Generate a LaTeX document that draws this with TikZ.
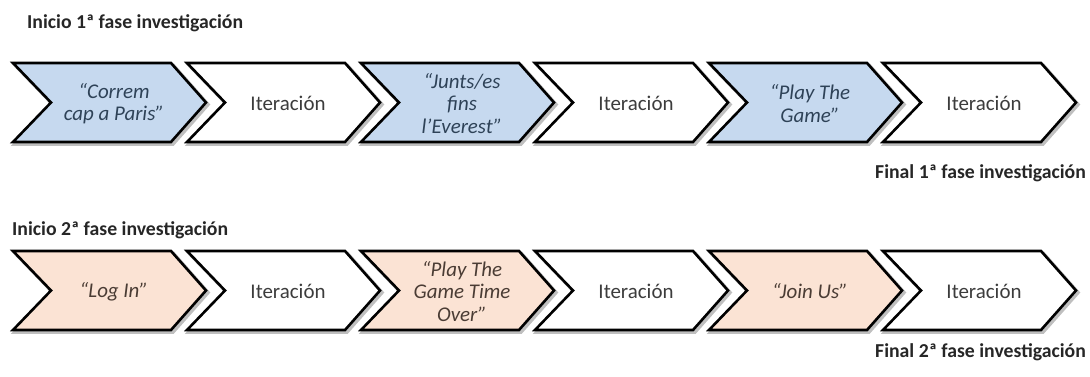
\documentclass[tikz,border=0pt]{standalone}
\usepackage{fontspec}
\setmainfont{Carlito}
\definecolor{bluefill}{HTML}{C6D9EF}
\definecolor{peachfill}{HTML}{FBE3D4}
\definecolor{bluetext}{HTML}{2E4257}
\definecolor{peachtext}{HTML}{4A3C34}
\definecolor{itertext}{HTML}{3C3C3C}
\tikzset{
  chevline/.style={draw=black, line width=2.6bp, line join=miter},
  chevshadow/.style={draw=black!25, line width=3.5bp, line join=miter},
  chevlabel/.style={font=\fontsize{21}{22.5}\selectfont, align=center, inner sep=0pt},
  bluelabel/.style={chevlabel, text=bluetext, font=\fontsize{21}{22.5}\selectfont\itshape},
  peachlabel/.style={chevlabel, text=peachtext, font=\fontsize{21}{22.5}\selectfont\itshape},
  iterlabel/.style={chevlabel, text=itertext},
  phase/.style={font=\fontsize{19.8}{21}\selectfont\bfseries, text=black!85, inner sep=0pt},
}
% #1 left x, #2 top y, #3 fill, #4 node name, #5 label style, #6 text
\newcommand\mychev[6]{%
  \path[chevshadow] (#1+2,#2+2) -- ++(158,0) -- ++(35,39.5) -- ++(-35,39.5) -- ++(-158,0) -- ++(38,-39.5) -- cycle;
  \path[chevline, fill=#3] (#1,#2) -- ++(158,0) -- ++(35,39.5) -- ++(-35,39.5) -- ++(-158,0) -- ++(38,-39.5) -- cycle;
  \node[#5] (#4) at (#1+101,#2+40.5) {#6};%
}
\begin{document}
\begin{tikzpicture}[x=1bp,y=-1bp]
\useasboundingbox (0,0) rectangle (1090,376);
% phase labels
\node[phase, anchor=west] (ini1) at (27,23) {Inicio 1ª fase investigación};
\node[phase, anchor=east] (fin1) at (1086,173) {Final 1ª fase investigación};
\node[phase, anchor=west] (ini2) at (12,230) {Inicio 2ª fase investigación};
\node[phase, anchor=east] (fin2) at (1086,352) {Final 2ª fase investigación};
% row 1
\mychev{13}{63}{bluefill}{a1}{bluelabel}{“Correm\\cap a Paris”}
\mychev{187}{63}{white}{a2}{iterlabel}{Iteración}
\mychev{361}{63}{bluefill}{a3}{bluelabel}{“Junts/es\\fins\\l’Everest”}
\mychev{535}{63}{white}{a4}{iterlabel}{Iteración}
\mychev{709}{63}{bluefill}{a5}{bluelabel}{“Play The\\Game”}
\mychev{883}{63}{white}{a6}{iterlabel}{Iteración}
% row 2
\mychev{13}{251}{peachfill}{b1}{peachlabel}{“Log In”}
\mychev{187}{251}{white}{b2}{iterlabel}{Iteración}
\mychev{361}{251}{peachfill}{b3}{peachlabel}{“Play The\\Game Time\\Over”}
\mychev{535}{251}{white}{b4}{iterlabel}{Iteración}
\mychev{709}{251}{peachfill}{b5}{peachlabel}{“Join Us”}
\mychev{883}{251}{white}{b6}{iterlabel}{Iteración}
\end{tikzpicture}
\end{document}
